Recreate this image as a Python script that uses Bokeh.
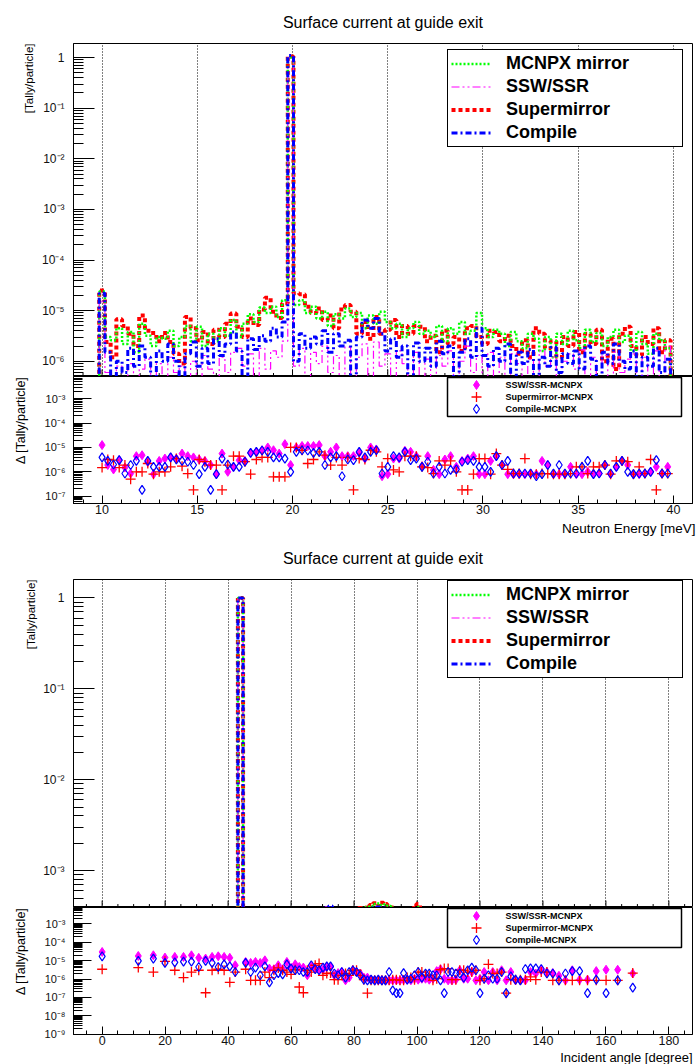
from bokeh.plotting import figure
from bokeh.models import (Range1d, Title, Legend, LegendItem, FixedTicker, LinearScale,
                          SingleIntervalTicker, CustomJSTickFormatter)
from bokeh.core.properties import value
from bokeh.layouts import column
from bokeh.embed import file_html
from bokeh.resources import INLINE

FONT = "Liberation Sans"
U = 1e-6  # all values below are given in units of 1e-6 tally/particle

# ---------------- Energy spectrum (bins 0.3 meV, empty bins at both ends) ----------------
energy_bins = [9.7] + [round(10.0 + 0.3 * i, 1) for i in range(100)] + [40.0]

mcnpx_energy = [0,
    24, 3.0, 2.6, 4.5, 2.2, 3.8, 1.5, 5.5, 3.2, 2.0,
    3.0, 2.8, 4.0, 2.0, 3.0, 5.0, 2.5, 4.8, 2.0, 3.5,
    2.5, 4.5, 3.2, 6.5, 3.0, 5.5, 8.5, 6.0, 11.5, 9.0,
    12.0, 7.5, 16, 1.0e6, 13, 16, 9.0, 12, 7.0, 9.5,
    5.0, 8.5, 7.0, 11, 7.5, 9.0, 4.5, 8.0, 5.5, 9.5,
    6.0, 4.5, 5.5, 3.0, 4.5, 6.0, 3.5, 4.0, 3.0, 5.0,
    2.5, 4.5, 3.5, 6.0, 3.5, 4.0, 9.0, 4.5, 3.0, 4.2,
    3.5, 2.0, 3.8, 2.5, 1.8, 3.5, 2.8, 1.6, 3.0, 1.2,
    3.5, 2.2, 4.0, 2.6, 1.8, 4.2, 2.4, 3.6, 2.0, 3.0,
    4.2, 2.4, 3.2, 1.6, 3.8, 2.2, 1.4, 3.5, 2.6, 1.8,
    0]
ssw_energy = [0,
    15, 0.6, 0, 0.8, 0.4, 0.9, 0, 0.7, 1.1, 0.5,
    0.9, 0, 1.2, 0.6, 0.8, 0, 1.0, 0.5, 1.3, 0.7,
    0, 1.2, 0.6, 1.5, 1.8, 0.8, 1.4, 0, 1.8, 0.7,
    1.6, 1.2, 2.5, 1.0e6, 0.8, 1.8, 0, 1.5, 0.9, 2.0,
    0.6, 1.3, 0, 1.9, 0.5, 1.2, 2.2, 0, 2.4, 0.8,
    1.4, 0, 1.6, 0.9, 0.4, 1.5, 0, 1.1, 0.5, 1.3,
    0.8, 1.6, 0, 1.0, 2.0, 0.6, 1.3, 0, 1.5, 0.5,
    1.2, 0, 1.4, 0.9, 0.4, 1.1, 0, 1.6, 0.8, 1.2,
    0, 1.0, 1.4, 0.7, 1.7, 0, 1.2, 0.5, 1.3, 0,
    1.5, 0.6, 1.1, 1.4, 0, 1.2, 0.5, 1.6, 0, 2.0,
    0]
supermirror_energy = [0,
    25, 2.4, 1.2, 6.8, 5.0, 3.5, 2.0, 8.0, 4.0, 3.6,
    2.5, 3.6, 2.4, 1.4, 0.9, 7.5, 4.5, 2.6, 3.8, 2.2,
    4.2, 3.0, 5.5, 8.8, 4.8, 3.0, 7.0, 5.2, 10.5, 18.0,
    9.5, 7.2, 14.0, 1.05e6, 22, 21, 12, 9.0, 11, 6.5,
    8.0, 4.5, 10.5, 13, 9.5, 3.5, 6.0, 2.8, 7.5, 3.5,
    4.2, 6.5, 3.0, 5.0, 3.5, 5.0, 4.8, 2.5, 3.2, 1.5,
    4.0, 2.2, 3.0, 1.6, 4.5, 5.0, 3.0, 2.2, 4.0, 3.8,
    2.5, 3.2, 2.0, 1.4, 2.6, 1.2, 4.5, 3.5, 1.8, 2.5,
    1.2, 3.0, 2.0, 3.8, 1.5, 3.5, 2.2, 4.2, 1.0, 2.8,
    0.7, 3.5, 4.8, 2.0, 1.3, 3.0, 2.2, 4.5, 1.5, 2.6,
    0]
compile_energy = [0,
    22, 1.5, 0, 1.0, 0.6, 1.8, 0.8, 2.0, 1.2, 0,
    1.6, 1.0, 2.2, 1.0, 0, 1.4, 2.4, 0.8, 1.8, 0.9,
    2.8, 1.3, 2.2, 3.8, 1.6, 0, 2.8, 1.7, 3.2, 2.5,
    4.5, 3.0, 6.0, 1.1e6, 1.0, 3.5, 1.8, 3.0, 2.2, 4.0,
    1.5, 3.5, 2.0, 2.6, 0, 3.0, 6.5, 4.5, 7.0, 3.5,
    1.6, 2.8, 1.2, 2.0, 0, 2.3, 1.0, 1.8, 0.8, 2.5,
    1.4, 2.0, 0, 1.5, 2.8, 1.2, 4.5, 1.3, 0.8, 1.8,
    1.0, 2.2, 0, 1.5, 0.9, 1.7, 0, 1.2, 0.8, 1.9,
    0.6, 1.4, 0.9, 1.6, 0.7, 2.0, 1.1, 0, 1.5, 0.9,
    2.2, 1.0, 0.7, 1.6, 0, 1.2, 0.8, 1.8, 0.6, 1.1,
    0]

# differences to MCNPX (energy), one value per filled bin
ssw_diff_energy = [
    12.5, 1.9, 1.25, 3.0, 1.5, 0.85, 4.4, 4.8, 2.5, 0.8,
    2.8, 3.5, 3.9, 3.5, 5.6, 4.4, 3.9, 3.2, 2.8, 1.9,
    0.8, 5.6, 1.0, 1.6, 3.0, 2.8, 6.0, 6.6, 7.7, 10,
    7.7, 5.6, 13.7, 1.9, 10, 11.5, 11.5, 11.5, 12.5, 4.4,
    6.6, 10, 4.4, 4.4, 4.4, 6.0, 3.5, 10, 8.3, 0.66,
    0.8, 3.5, 3.5, 7.3, 6.6, 4.4, 1.7, 4.4, 1.2, 0.8,
    3.2, 4.4, 1.6, 2.8, 3.5, 4.4, 0.8, 0.8, 2.8, 4.4,
    1.9, 0.8, 0.8, 0.8, 0.8, 0.85, 0.8, 2.8, 1.9, 0.8,
    0.8, 0.8, 1.6, 0.8, 0.8, 1.0, 0.85, 0.85, 1.9, 0.8,
    1.6, 2.8, 1.9, 0.8, 0.8, 0.85, 1.0, 1.6, 0.85, 1.6]
supermirror_diff_energy = [
    1.5, 3.2, 3.0, 1.5, 1.9, 0.5, 1.0, 1.0, 2.2, 0.8,
    1.0, 1.0, 1.6, 3.5, 1.7, 0.85, 0.18, 3.2, 2.6, 1.9,
    1.9, 0.18, 1.9, 4.4, 4.4, 2.6, 0.8, 3.2, 3.9, 3.9,
    0.62, 0.62, 0.62, 10, 10, 7.7, 2.2, 3.2, 6.6, 4.8,
    1.9, 3.9, 1.9, 3.9, 0.18, 3.5, 3.2, 7.7, 6.6, 1.6,
    3.5, 1.2, 1.0, 4.4, 4.4, 4.4, 1.6, 1.5, 0.85, 2.8,
    1.9, 2.8, 1.0, 0.18, 0.18, 0.8, 3.5, 3.5, 0.8, 5.6,
    1.9, 1.25, 0.85, 0.85, 3.5, 0.8, 0.8, 0.85, 0.85, 0.8,
    0.8, 0.8, 0.85, 1.6, 1.6, 0.85, 1.6, 1.6, 1.9, 0.8,
    2.8, 2.8, 2.6, 0.8, 1.6, 0.85, 3.2, 0.18, 0.85, 0.85]
compile_diff_energy = [
    3.9, 2.8, 2.0, 3.0, 0.85, 1.9, 2.8, 0.18, 2.8, 1.6,
    1.6, 1.6, 3.9, 3.2, 2.8, 2.6, 1.9, 0.8, 1.6, 0.18,
    0.8, 3.5, 2.0, 1.6, 1.6, 2.6, 6.0, 6.6, 7.5, 6.6,
    3.9, 3.9, 3.5, 1.0, 6.6, 7.7, 7.5, 6.0, 6.6, 1.9,
    3.9, 4.4, 0.66, 3.2, 3.0, 6.6, 3.9, 6.6, 7.7, 0.85,
    1.6, 4.4, 3.9, 6.6, 3.0, 3.5, 1.6, 2.6, 0.85, 1.6,
    0.85, 1.2, 1.25, 2.6, 3.0, 2.8, 1.6, 1.6, 1.0, 4.4,
    1.9, 2.8, 0.85, 0.85, 0.85, 0.85, 0.66, 0.8, 1.9, 0.85,
    1.9, 0.85, 0.85, 0.85, 1.6, 2.8, 0.8, 0.85, 1.9, 0.85,
    1.6, 2.8, 1.0, 0.8, 0.85, 0.85, 1.0, 3.0, 0.85, 0.85]

# ---------------- Angular distribution (bins uniform in cos) ----------------
angles = [0.0, 11.48, 16.26, 19.95, 23.07, 25.84, 28.36, 30.68, 32.86, 34.92,
          36.87, 38.74, 40.54, 42.27, 43.95, 45.57, 47.16, 48.70, 50.21, 51.68,
          53.13, 54.55, 55.94, 57.32, 58.67, 60.00, 61.31, 62.61, 63.90, 65.17,
          66.42, 67.67, 68.90, 70.12, 71.34, 72.54, 73.74, 74.93, 76.11, 77.29,
          78.46, 79.63, 80.79, 81.95, 83.11, 84.26, 85.41, 86.56, 87.71, 88.85,
          90.00, 91.15, 92.29, 93.44, 94.59, 95.74, 96.89, 98.05, 99.21, 100.37,
          101.54, 102.71, 103.89, 105.07, 106.26, 107.46, 108.66, 109.88, 111.10, 112.33,
          113.58, 114.83, 116.10, 117.39, 118.69, 120.00, 121.33, 122.68, 124.06, 125.45,
          126.87, 128.32, 129.79, 131.30, 132.84, 134.43, 136.05, 137.73, 139.46, 141.26,
          143.13, 145.08, 147.14, 149.32, 151.64, 154.16, 156.93, 160.05, 163.74, 168.52]

mcnpx_angle = [
    30, 20, 25, 18, 22, 20, 25, 28, 30, 35,
    40, 60, 90, 150, 1.0e6, 200, 120, 110, 100, 130,
    150, 160, 140, 170, 180, 200, 190, 210, 230, 240,
    250, 260, 280, 300, 290, 310, 320, 300, 330, 340,
    350, 360, 370, 380, 390, 400, 410, 430, 435, 420,
    425, 410, 390, 380, 370, 360, 365, 350, 360, 400,
    380, 350, 340, 330, 320, 310, 300, 290, 280, 270,
    260, 250, 240, 230, 220, 210, 200, 190, 180, 170,
    160, 150, 140, 130, 120, 110, 100, 90, 80, 70,
    60, 55, 50, 45, 40, 35, 30, 28, 25, 20]
ssw_angle = [
    18, 15, 14, 16, 15, 18, 17, 20, 22, 26,
    32, 45, 75, 120, 1.0e6, 170, 100, 90, 85, 110,
    130, 140, 125, 150, 160, 170, 170, 185, 200, 210,
    220, 230, 250, 270, 400, 395, 280, 275, 300, 305,
    315, 325, 335, 345, 355, 365, 375, 380, 385, 380,
    375, 365, 355, 345, 340, 330, 335, 325, 330, 365,
    345, 325, 310, 305, 290, 285, 275, 265, 255, 245,
    235, 225, 215, 205, 195, 185, 175, 165, 155, 145,
    135, 125, 115, 110, 100, 90, 82, 74, 66, 58,
    52, 46, 42, 36, 33, 28, 25, 22, 19, 16]
supermirror_angle = [
    25, 22, 18, 24, 20, 26, 22, 30, 28, 33,
    45, 55, 80, 140, 1.0e6, 220, 130, 100, 115, 140,
    145, 170, 150, 160, 190, 195, 200, 215, 220, 250,
    240, 270, 275, 310, 300, 300, 330, 310, 320, 350,
    340, 370, 360, 390, 380, 395, 420, 440, 410, 445,
    430, 400, 395, 370, 380, 350, 370, 360, 390, 430,
    370, 360, 330, 335, 315, 300, 310, 280, 285, 260,
    265, 240, 245, 225, 215, 215, 195, 195, 175, 175,
    155, 155, 135, 135, 115, 115, 95, 95, 75, 75,
    62, 52, 52, 42, 42, 33, 31, 26, 26, 18]
compile_angle = [
    20, 18, 15, 20, 18, 22, 20, 24, 25, 30,
    35, 50, 85, 130, 1.0e6, 180, 110, 95, 90, 120,
    140, 150, 135, 160, 170, 185, 180, 195, 215, 225,
    235, 245, 265, 290, 405, 410, 300, 290, 315, 320,
    330, 340, 350, 360, 370, 380, 390, 395, 400, 390,
    390, 380, 370, 360, 355, 345, 350, 340, 345, 380,
    360, 340, 325, 320, 305, 300, 290, 280, 270, 260,
    250, 240, 230, 220, 210, 200, 190, 180, 170, 160,
    150, 140, 130, 125, 115, 105, 95, 85, 75, 65,
    58, 50, 48, 40, 38, 32, 28, 25, 22, 18]

N = None
ssw_diff_angle = [
    29.6, 17.9, 19.5, 14.6, 15.9, 15.9, 19.5, 14.2, 12.9, 15.9,
    17.2, 15.9, 14.2, 5.6, N, 8.5, 7.5, 8.5, 7.5, 10.4,
    3.7, 3.4, 5.6, 3.4, 8.5, 4.0, 6.3, 4.5, 4.2, 1.6,
    4.9, 3.7, 3.2, 3.2, 4.5, 4.5, 1.6, 2.1, 2.4, 0.85,
    1.2, 3.0, 2.4, 2.0, 1.2, 1.2, 0.92, 0.85, 0.85, 0.85,
    0.85, 0.85, 0.85, 0.85, 0.85, 0.92, 0.92, 0.85, 1.04, 0.92,
    1.04, 1.04, 0.92, 1.04, 2.7, 3.4, 1.04, 0.85, 0.85, 0.92,
    3.0, 1.04, 1.04, 2.4, 0.85, 1.04, 2.4, 0.85, 2.4, 0.85,
    3.0, 0.85, 2.4, 0.85, 0.85, 0.85, 2.4, 2.0, 3.0, 2.4,
    2.1, 1.5, 0.85, 3.0, 0.92, 0.92, 2.7, 3.2, 3.2, 2.0]
supermirror_diff_angle = [
    3.4, 4.2, 2.4, 9.2, 3.0, 1.2, 2.4, 3.0, 0.18, 3.0,
    3.4, 3.0, 0.66, 2.4, N, 3.4, 0.85, 0.85, 0.85, 2.4,
    1.2, 3.0, 4.0, 3.0, 2.4, 1.8, 3.2, 0.37, 0.18, 3.0,
    2.4, 5.6, 6.9, 1.6, 2.0, 2.1, 0.92, 0.92, 1.6, 2.0,
    1.6, 3.0, 3.0, 1.6, 0.92, 0.17, 0.85, 0.85, 0.85, 0.85,
    0.85, 0.85, 0.92, 0.92, 0.85, 0.85, 1.2, 1.2, 0.92, 2.4,
    2.4, 1.6, 1.6, 0.85, 1.04, 3.2, 3.7, 3.7, 0.92, 0.92,
    3.0, 3.0, 2.4, 2.4, 3.0, 0.85, 1.04, 6.3, 2.0, 2.0,
    2.4, 0.17, 0.92, 0.92, 0.92, 0.92, 1.3, 0.92, 2.4, 2.4,
    0.85, 0.85, 0.85, 0.85, 0.85, 0.85, 0.85, 0.85, 0.85, 2.1]
compile_diff_angle = [
    17.2, 9.6, 12.9, 7.5, 8.1, 8.8, 8.8, 4.5, 9.6, 7.5,
    4.5, 6.3, 4.9, 2.4, N, 7.5, 2.4, 4.2, 1.6, 4.9,
    0.66, 1.6, 2.1, 1.8, 6.3, 3.7, 3.0, 3.0, 2.4, 2.4,
    5.6, 3.4, 3.0, 4.2, 4.9, 4.9, 2.0, 1.6, 2.4, 1.2,
    2.4, 3.0, 2.4, 1.6, 0.92, 0.85, 0.92, 0.85, 0.92, 0.85,
    0.85, 2.4, 0.24, 0.17, 0.17, 2.1, 0.92, 1.04, 1.6, 2.4,
    1.2, 2.0, 2.0, 1.6, 1.6, 0.85, 0.17, 2.4, 2.4, 2.0,
    2.0, 1.2, 3.0, 4.2, 3.0, 0.17, 1.04, 1.6, 1.04, 1.04,
    2.4, 0.17, 1.4, 0.92, 0.85, 3.5, 3.8, 3.8, 3.5, 2.0,
    2.0, 0.85, 2.0, 2.7, 2.7, 0.17, 0.92, 0.17, 0.85, 0.34]

series_names = ["MCNPX mirror", "SSW/SSR", "Supermirror", "Compile"]
diff_names = ["SSW/SSR-MCNPX", "Supermirror-MCNPX", "Compile-MCNPX"]
TITLE = "Surface current at guide exit"

# ---------------- helpers ----------------
FRAME_W = 619

def to_line(vals):
    # empty bins are drawn at the bottom of the log pad (as ROOT does)
    return [v * U if v > 0 else 1e-12 for v in vals]

def to_pts(vals):
    return [v * U if v is not None else float("nan") for v in vals]

SUP = CustomJSTickFormatter(code="""
const e = Math.round(Math.log10(tick));
if (e === 0) { return "1"; }
const m = {"-": "\u207b", "0": "\u2070", "1": "\u00b9", "2": "\u00b2", "3": "\u00b3",
           "4": "\u2074", "5": "\u2075", "6": "\u2076", "7": "\u2077", "8": "\u2078", "9": "\u2079"};
let s = "";
for (const c of String(e)) { s += m[c]; }
return "10" + s;
""")

def log_ticker(lo, hi):
    major = [10.0 ** e for e in range(lo, hi + 1)]
    minor = [k * 10.0 ** e for e in range(lo - 1, hi + 1) for k in range(2, 10)]
    return FixedTicker(ticks=major, minor_ticks=minor)

def make_pad(height, xr, yr, top, bottom, frame_h, xaxis=True, title=None):
    p = figure(width=698, height=height, x_range=Range1d(*xr), y_range=Range1d(*yr),
               y_axis_type="log", output_backend="svg", toolbar_location=None, title=title,
               x_axis_location="below" if xaxis else None,
               min_border_left=73, min_border_right=6, min_border_top=top, min_border_bottom=bottom,
               background_fill_color="white", border_fill_color="white")
    p.outline_line_color = "black"
    p.outline_line_width = 1
    p.outline_line_alpha = 1.0
    if title is not None:
        p.title.align = "center"
        p.title.vertical_align = "top"
        p.title.text_font = FONT
        p.title.text_font_size = "16px"
        p.title.text_font_style = "normal"
        p.title.text_color = "black"
        p.title.standoff = 22
    # pixel coordinates of the frame (x to the right, y downward from the frame top),
    # used only for tick marks and legend layout
    p.extra_x_ranges = {"fx": Range1d(0, FRAME_W)}
    p.extra_y_ranges = {"fy": Range1d(frame_h, 0)}
    p.extra_x_scales = {"fx": LinearScale()}
    p.extra_y_scales = {"fy": LinearScale()}
    return p

def left_title(p, text, fs, standoff, valign="bottom"):
    p.add_layout(Title(text=text, align="right", vertical_align=valign, text_font=FONT,
                       text_font_size=fs, text_font_style="normal", text_color="black",
                       standoff=standoff), "left")

def bottom_title(p, text, fs, offset, standoff):
    p.add_layout(Title(text=text, align="right", text_font=FONT, text_font_size=fs,
                       text_font_style="normal", text_color="black", offset=offset,
                       standoff=standoff), "below")

def style_y(p, lo, hi, fs, tin, tmin, standoff):
    ax = p.yaxis[0]
    ax.ticker = log_ticker(lo, hi)
    ax.formatter = SUP
    ax.major_tick_in = tin
    ax.major_tick_out = 0
    ax.minor_tick_in = tmin
    ax.minor_tick_out = 0
    ax.major_tick_line_color = "black"
    ax.minor_tick_line_color = "black"
    ax.axis_line_color = "black"
    ax.major_label_text_font = FONT
    ax.major_label_text_font_size = fs
    ax.major_label_text_color = "#111111"
    ax.major_label_standoff = standoff

def style_x(p, interval, nminor, tin, tmin):
    ax = p.xaxis[0]
    ax.ticker = SingleIntervalTicker(interval=interval, num_minor_ticks=nminor)
    ax.major_tick_in = tin
    ax.major_tick_out = 0
    ax.minor_tick_in = tmin
    ax.minor_tick_out = 0
    ax.major_tick_line_color = "black"
    ax.minor_tick_line_color = "black"
    ax.axis_line_color = "black"
    ax.major_label_text_font = FONT
    ax.major_label_text_color = "#111111"
    ax.major_label_text_font_size = "12.5px"
    ax.major_label_standoff = 1
    p.xgrid.grid_line_color = None
    p.ygrid.grid_line_color = None

def upper_x_ticks(p, lo, hi, major_step, minor_step, frame_h):
    # tick marks on the bottom edge of an upper pad (no labels, as in ROOT)
    major = [t for t in range(lo, hi + 1, minor_step) if t % major_step == 0]
    minor = [t for t in range(lo, hi + 1, minor_step) if t % major_step != 0]
    p.segment(x0=major, y0=[frame_h] * len(major), x1=major, y1=[frame_h - 7] * len(major),
              y_range_name="fy", line_color="black", line_width=1)
    p.segment(x0=minor, y0=[frame_h] * len(minor), x1=minor, y1=[frame_h - 3.5] * len(minor),
              y_range_name="fy", line_color="black", line_width=1)
    g = p.xgrid[0]
    g.ticker = SingleIntervalTicker(interval=major_step)
    g.grid_line_color = "black"
    g.grid_line_dash = "1 2"
    g.grid_line_width = 1
    p.ygrid.grid_line_color = None

LINE_STYLES = [
    dict(line_color="#00ff00", line_width=2.5, line_dash="2 2"),         # MCNPX mirror
    dict(line_color="#ff00ff", line_width=1.2, line_dash="8 3 2 3 2 3"),  # SSW/SSR
    dict(line_color="#ff0000", line_width=4, line_dash="4 3"),           # Supermirror
    dict(line_color="#0000ff", line_width=3, line_dash="6 3 2 3"),       # Compile
]

def upper_legend(p, renderers):
    leg = Legend(items=[LegendItem(label=n, renderers=[r]) for n, r in zip(series_names, renderers)],
                 location=(374, 229), padding=3, spacing=2, margin=0,
                 glyph_width=40, glyph_height=21, label_height=21, label_width=173,
                 label_standoff=15, label_text_font=FONT, label_text_font_style="bold",
                 label_text_font_size="18px", label_text_color="black",
                 border_line_color="black", border_line_width=1.5, border_line_alpha=1.0,
                 background_fill_color="white", background_fill_alpha=1.0)
    p.add_layout(leg)

MARK = [
    dict(marker="diamond", size=9, fill_color="#ff00ff", line_color="#ff00ff", line_width=1),
    dict(marker="cross", size=10, line_color="#ff0000", line_width=1.3),
    dict(marker="diamond", size=9, fill_color=None, line_color="#0000ff", line_width=1.2),
]

def draw_upper(p, x, series):
    made = {}
    for i in [2, 0, 1, 3]:
        made[i] = p.step(x, to_line(series[i]), mode="center", **LINE_STYLES[i])
    return [made[i] for i in range(4)]

def draw_lower(p, x, diffs):
    for i in range(3):
        p.scatter(x, to_pts(diffs[i]), **MARK[i])

def lower_legend(p):
    # legend box laid out in pixel units of the frame (ROOT-like marker sizes)
    p.quad(left=374, right=608, top=1, bottom=40, x_range_name="fx", y_range_name="fy",
           fill_color="white", line_color="black", line_width=1.5)
    rows = [8.5, 20.5, 32.5]
    for i in range(3):
        p.scatter([403], [rows[i]], x_range_name="fx", y_range_name="fy", **MARK[i])
    p.text(x=[432] * 3, y=rows, text=diff_names, x_range_name="fx", y_range_name="fy",
           text_font=value(FONT), text_font_style="bold", text_font_size="9px",
           text_baseline="middle", text_align="left", text_color="black")

# ---------------- Energy canvas ----------------
pA = make_pad(376, (8.5, 41.0), (5.0e-7, 1.9), 43, 0, 333, xaxis=False, title=TITLE)
style_y(pA, -6, 0, "12px", 21, 10, 9)
upper_x_ticks(pA, 9, 41, 5, 1, 333)
left_title(pA, "[Tally/particle]", "11.5px", 7)
rA = draw_upper(pA, energy_bins, [mcnpx_energy, ssw_energy, supermirror_energy, compile_energy])
upper_legend(pA, rA)

pB = make_pad(162, (8.5, 41.0), (5.0e-8, 8.2e-3), 0, 35, 127)
style_y(pB, -7, -3, "11px", 18, 9, 8)
style_x(pB, 5, 5, 8, 4)
left_title(pB, "\u0394 [Tally/particle]", "12.5px", 24, valign="top")
bottom_title(pB, "Neutron Energy [meV]", "13.5px", -3, 4)
draw_lower(pB, energy_bins[1:-1], [ssw_diff_energy, supermirror_diff_energy, compile_diff_energy])
lower_legend(pB)

# ---------------- Angle canvas ----------------
pC = make_pad(369, (-9.1, 187.5), (3.94e-4, 1.594), 36, 0, 333, xaxis=False, title=TITLE)
style_y(pC, -3, 0, "12px", 21, 10, 9)
upper_x_ticks(pC, -5, 185, 20, 5, 333)
left_title(pC, "[Tally/particle]", "11.5px", 7)
rC = draw_upper(pC, angles, [mcnpx_angle, ssw_angle, supermirror_angle, compile_angle])
upper_legend(pC, rC)

pD = make_pad(157, (-9.1, 187.5), (0.97e-9, 7.7e-3), 0, 30, 127)
style_y(pD, -9, -3, "11px", 18, 9, 8)
style_x(pD, 20, 4, 8, 4)
left_title(pD, "\u0394 [Tally/particle]", "12.5px", 24, valign="top")
bottom_title(pD, "Incident angle [degree]", "13px", 0, 0)
draw_lower(pD, angles, [ssw_diff_angle, supermirror_diff_angle, compile_diff_angle])
lower_legend(pD)

layout = column(pA, pB, pC, pD, spacing=0)
open("out.html", "w").write(file_html(layout, INLINE))
